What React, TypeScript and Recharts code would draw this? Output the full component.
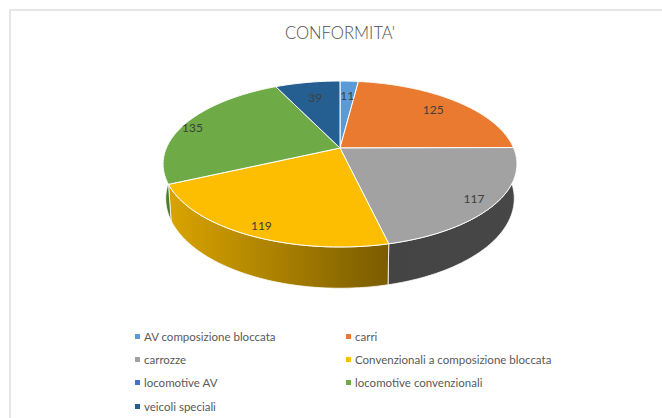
import { Legend, Pie, PieChart } from 'recharts';

const CATEGORIES = [
  'AV composizione bloccata',
  'carri',
  'carrozze',
  'Convenzionali a composizione bloccata',
  'locomotive AV',
  'locomotive convenzionali',
  'veicoli speciali',
];
const VALUES = [11, 125, 117, 119, 0, 135, 39];
const TOP_COLOURS = ['#5b9bd5', '#ea7a30', '#a2a2a2', '#fdbd00', '#4472c4', '#6eaa45', '#255e91'];
const SIDE_COLOURS = ['#5b9bd5', '#ea7a30', 'url(#sideGrey)', 'url(#sideYellow)', '#4472c4', 'url(#sideGreen)', '#255e91'];
// how far out each data label sits, as a share of the radius, plus a small vertical nudge
const LABEL_RADIUS = [0.76, 0.79, 0.88, 0.875, 0, 0.96, 0.73];
const LABEL_NUDGE = [0, 0, 2, 3, 0, 4, -0.5];

const data = CATEGORIES.map((name, i) => ({ name, value: VALUES[i], idx: i }));

// perspective projection of the pie disc
const CX = 340;
const CY = 148;
const RX = 173.6;
const RY = 79.9;
const PERSPECTIVE = 0.1928;
const DEPTH = 33.3;
const BOTTOM_SHRINK = 0.985;

function project(deg: number, f = 1, drop = 0) {
  // recharts angles: counter-clockwise from 3 o'clock
  const a = ((90 - deg) * Math.PI) / 180;
  const w = 1 + PERSPECTIVE * f * Math.cos(a);
  const x = (RX * f * Math.sin(a)) / w;
  return {
    x: CX + (drop ? x * BOTTOM_SHRINK : x),
    y: CY - (RY * f * Math.cos(a)) / w + (drop ? drop / w : 0),
  };
}

function rim(start: number, end: number, drop = 0) {
  const steps = Math.max(2, Math.ceil(Math.abs(end - start)));
  const pts = [];
  for (let i = 0; i <= steps; i++) {
    pts.push(project(start + ((end - start) * i) / steps, 1, drop));
  }
  return pts;
}

const toPath = (pts: { x: number; y: number }[]) =>
  pts.map((p, i) => `${i ? 'L' : 'M'}${p.x.toFixed(2)},${p.y.toFixed(2)}`).join(' ');

function TopSlice(props: any) {
  if (props.startAngle === props.endAngle) return null;
  const d = `M${CX},${CY} ${toPath(rim(props.startAngle, props.endAngle)).replace('M', 'L')} Z`;
  return <path d={d} fill={TOP_COLOURS[props.idx]} stroke="#fff" strokeWidth={1} />;
}

function SideSlice(props: any) {
  if (props.startAngle === props.endAngle) return null;
  const top = rim(props.startAngle, props.endAngle);
  const bottom = rim(props.endAngle, props.startAngle, DEPTH);
  const d = `${toPath(top)} ${toPath(bottom).replace('M', 'L')} Z`;
  return <path d={d} fill={SIDE_COLOURS[props.idx]} stroke="#fff" strokeWidth={0.8} />;
}

function sliceLabel(props: any) {
  if (!props.value) return null;
  const p = project(props.midAngle, LABEL_RADIUS[props.idx]);
  return (
    <text
      x={p.x}
      y={p.y + LABEL_NUDGE[props.idx]}
      textAnchor="middle"
      dominantBaseline="central"
      fontSize={12}
      fill="#404040"
    >
      {props.value}
    </text>
  );
}

function LegendGrid({ payload }: any) {
  // both pie layers report their sectors, keep each category once
  const names = CATEGORIES.filter((c) => (payload ?? []).some((e: any) => e.value === c));
  return (
    <div
      style={{
        display: 'grid',
        gridTemplateColumns: '211px 220px',
        gridAutoRows: '23.4px',
        fontSize: 11.5,
        color: '#595959',
      }}
    >
      {names.map((name) => (
        <div key={name} style={{ display: 'flex', alignItems: 'center', whiteSpace: 'nowrap' }}>
          <span
            style={{
              width: 5,
              height: 5,
              marginRight: 4,
              background: TOP_COLOURS[CATEGORIES.indexOf(name)],
            }}
          />
          {name}
        </div>
      ))}
    </div>
  );
}

export default function App() {
  return (
    <div
      style={{
        position: 'absolute',
        left: 0,
        top: 0,
        width: 662,
        height: 418,
        overflow: 'hidden',
        background: '#fff',
        fontFamily: 'Lato, sans-serif',
      }}
    >
      <div
        style={{
          position: 'absolute',
          left: 9,
          top: 9,
          width: 670,
          height: 420,
          border: '2px solid #e6e6e6',
        }}
      />
      <PieChart width={662} height={418} style={{ position: 'absolute', left: 0, top: 0 }}>
        <defs>
          <linearGradient id="sideYellow" gradientUnits="userSpaceOnUse" x1={169} y1={0} x2={388} y2={0}>
            <stop offset="0%" stopColor="#d9a400" />
            <stop offset="100%" stopColor="#7a5c00" />
          </linearGradient>
          <linearGradient id="sideGrey" gradientUnits="userSpaceOnUse" x1={388} y1={0} x2={517} y2={0}>
            <stop offset="0%" stopColor="#444444" />
            <stop offset="100%" stopColor="#474747" />
          </linearGradient>
          <linearGradient id="sideGreen" gradientUnits="userSpaceOnUse" x1={163} y1={0} x2={175} y2={0}>
            <stop offset="0%" stopColor="#4f7a32" />
            <stop offset="100%" stopColor="#3f7a28" />
          </linearGradient>
        </defs>
        <text x={340} y={33} textAnchor="middle" dominantBaseline="central" fontSize={16.6} fontWeight={300} fill="#505050">
          CONFORMITA'
        </text>
        <Pie
          data={data}
          dataKey="value"
          nameKey="name"
          cx={CX}
          cy={CY}
          outerRadius={170}
          startAngle={90}
          endAngle={-270}
          paddingAngle={0}
          legendType="none"
          shape={SideSlice}
          label={false}
          labelLine={false}
          isAnimationActive={false}
        />
        <Pie
          data={data}
          dataKey="value"
          nameKey="name"
          cx={CX}
          cy={CY}
          outerRadius={170}
          startAngle={90}
          endAngle={-270}
          paddingAngle={0}
          shape={TopSlice}
          label={sliceLabel}
          labelLine={false}
          isAnimationActive={false}
        />
        <Legend
          content={<LegendGrid />}
          layout="vertical"
          verticalAlign="top"
          align="left"
          wrapperStyle={{ left: 135, top: 324.5, width: 440 }}
        />
      </PieChart>
    </div>
  );
}
